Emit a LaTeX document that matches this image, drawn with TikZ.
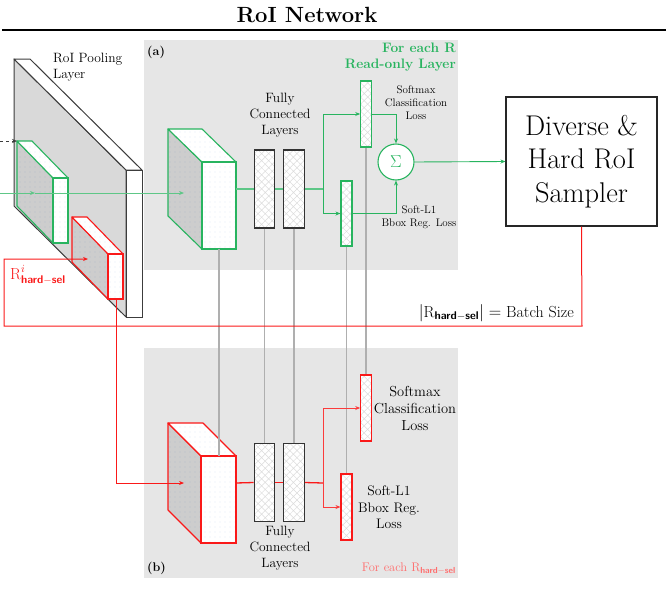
\documentclass[tikz,border=0pt]{standalone}
\usepackage{amsmath}
\usetikzlibrary{arrows.meta,patterns,patterns.meta,calc}
\definecolor{mygreen}{RGB}{40,180,95}
\definecolor{myred}{RGB}{250,25,25}
\definecolor{lightred}{RGB}{255,110,110}
\definecolor{panelgray}{RGB}{230,230,230}
\definecolor{linkgray}{RGB}{175,175,175}
\definecolor{plategray}{RGB}{217,217,217}
\definecolor{sidegray}{RGB}{205,205,205}
\definecolor{edgegray}{RGB}{60,60,60}
\definecolor{dotblue}{RGB}{170,200,235}
\definecolor{dotside}{RGB}{140,165,200}
\definecolor{hatchgray}{RGB}{220,220,220}

\newcommand{\cuboid}[7]{%
  \draw[#7, line width=1.1pt, line join=round, preaction={fill=sidegray}, preaction={pattern={Dots[distance=5pt,radius=0.45pt]}, pattern color=dotside}]
    (#1,#2) -- (#1-#5,#2-#6) -- (#1-#5,#4-#6) -- (#1,#4) -- cycle;
  \draw[#7, line width=1.1pt, line join=round, preaction={fill=white}, preaction={pattern={Dots[distance=5pt,radius=0.45pt]}, pattern color=dotblue}]
    (#1,#2) -- (#1-#5,#2-#6) -- (#3-#5,#2-#6) -- (#3,#2) -- cycle;
  \draw[#7, line width=1.1pt, preaction={fill=white}, preaction={pattern={Dots[distance=5pt,radius=0.45pt]}, pattern color=dotblue}]
    (#1,#2) rectangle (#3,#4);
}

\tikzset{
  arr/.style={-{Stealth[length=5pt,width=4pt]}},
  hatchfill/.style={preaction={fill=white}, preaction={pattern={Hatch[angle=45,distance=5pt,line width=0.5pt]}, pattern color=hatchgray}},
  fclayer/.style={draw=black!80, line width=1.1pt, inner sep=0, minimum width=20.5pt, minimum height=78pt, hatchfill},
  lossbar/.style={line width=1.1pt, inner sep=0, minimum width=10.5pt, minimum height=66pt, hatchfill},
  flowg/.style={mygreen!75, line width=1.6pt},
  flowr/.style={myred, line width=1.3pt},
  link/.style={linkgray, line width=1.2pt},
  lbl/.style={inner sep=0, align=center},
}

\begin{document}
\begin{tikzpicture}[x=1pt,y=-1pt]
\useasboundingbox (0,0) rectangle (670,592);

% title
\node[font=\fontsize{22}{26}\selectfont\bfseries] (title) at (307,15) {RoI Network};
\coordinate (ruleL) at (2,30);
\coordinate (ruleR) at (666,30);
\draw[line width=1.2pt] (ruleL) -- (ruleR);

% panels
\fill[panelgray] (144,40) rectangle (458,270);
\fill[panelgray] (144,348) rectangle (458,578);
\node[anchor=base west, inner sep=0, font=\fontsize{12.5}{15}\selectfont\bfseries] (pa) at (147,55) {(a)};
\node[anchor=base west, inner sep=0, font=\fontsize{12.5}{15}\selectfont\bfseries] (pb) at (147,571) {(b)};

% RoI pooling layer
\draw[edgegray, line width=1pt, line join=round, fill=plategray] (14,59) -- (126,170) -- (126,317) -- (14,206) -- cycle;
\draw[edgegray, line width=1pt, line join=round, fill=white] (14,59) -- (30,59) -- (142,170) -- (126,170) -- cycle;
\draw[edgegray, line width=1pt, fill=white] (126,170) rectangle (142,317);
\node[anchor=north west, inner sep=0, align=left, font=\fontsize{13.5}{16}\selectfont] (pool) at (53,52.5) {RoI Pooling\\Layer};

% small boxes in pooling layer
\cuboid{53}{178}{68}{243}{36}{37}{mygreen}
\cuboid{108}{254}{123}{299}{36}{37}{myred}

% big boxes
\cuboid{202}{162}{236}{249}{34}{33}{mygreen}
\cuboid{201}{456}{236}{543}{33}{33}{myred}

% FC layers
\node[fclayer] (fca1) at (264.5,189) {};
\node[fclayer] (fca2) at (294,189) {};
\node[fclayer] (fcb1) at (264.5,482.5) {};
\node[fclayer] (fcb2) at (294,482.5) {};

% loss bars
\node[lossbar, draw=mygreen] (sma) at (366,114) {};
\node[lossbar, draw=mygreen, minimum width=11pt, minimum height=65pt] (bba) at (346.5,213.5) {};
\node[lossbar, draw=myred] (smb) at (366,408) {};
\node[lossbar, draw=myred, minimum width=11pt] (bbb) at (346.5,507) {};

% sigma
\node[circle, draw=mygreen, line width=1.1pt, fill=white, minimum size=36pt, inner sep=0,
  text=mygreen, font=\fontsize{17}{19}\selectfont] (sig) at (396,162) {$\Sigma$};

% sampler
\node[draw=black!85, line width=1.1pt, minimum width=151pt, minimum height=129pt, inner sep=0,
  align=center, font=\fontsize{28.5}{33.5}\selectfont] (samp) at (581.5,161.5) {Diverse \&\\Hard RoI\\Sampler};

% coordinates
\coordinate (gbaR) at (236,189);
\coordinate (gbbR) at (236,483);
\coordinate (splA) at (323,189);
\coordinate (splB) at (323,483);
\coordinate (gbaTop) at (219,249);
\coordinate (gbbTop) at (219,456);
\coordinate (inG) at (0,193);
\coordinate (gsm) at (35,193);
\coordinate (gbaIn) at (184,193);
\coordinate (dashS) at (0,141);
\coordinate (dashE) at (17,141);
\coordinate (rsmB) at (116,299);
\coordinate (rdown) at (116,483);
\coordinate (gbbIn) at (184,483);
\coordinate (loopA) at (582,326);
\coordinate (loopB) at (4,326);
\coordinate (loopC) at (4,259);
\coordinate (rsmIn) at (88,259);

% shared-weight links
\draw[link] (gbaTop) -- (gbbTop);
\draw[link] (fca1.south) -- (fcb1.north);
\draw[link] (fca2.south) -- (fcb2.north);
\draw[link] (bba.south) -- (bbb.north);
\draw[link] (sma.south) -- (smb.north);

% flow (a)
\draw[flowg] (gbaR) -- (fca1.west);
\draw[flowg] (fca1.east) -- (fca2.west);
\draw[flowg] (fca2.east) -- (splA);
\draw[mygreen, line width=0.9pt, arr] (splA) |- (sma.west);
\draw[mygreen, line width=0.9pt, arr] (splA) |- (bba.west);
\draw[mygreen, line width=0.9pt, arr] (sma.east) -| (sig.north);
\draw[mygreen, line width=0.9pt, arr] (bba.east) -| (sig.south);
\draw[mygreen, line width=0.9pt, arr] (sig.east) -- (samp.west);

% flow (b)
\draw[flowr] (gbbR) -- (fcb1.west);
\draw[flowr] (fcb1.east) -- (fcb2.west);
\draw[flowr] (fcb2.east) -- (splB);
\draw[myred!85, line width=0.9pt, arr] (splB) |- (smb.west);
\draw[myred!85, line width=0.9pt, arr] (splB) |- (bbb.west);

% inputs
\draw[mygreen!75, line width=1pt, arr] (inG) -- (gsm);
\draw[mygreen!75, line width=1pt, arr] (gsm) -- (gbaIn);
\draw[edgegray, line width=0.7pt, dashed, arr] (dashS) -- (dashE);
\draw[myred, line width=1pt, arr] (rsmB) -- (rdown) -- (gbbIn);
\draw[myred, line width=1pt, arr] (samp.south) -- (loopA) -- (loopB) -- (loopC) -- (rsmIn);

% labels
\node[lbl, anchor=north, font=\fontsize{13.5}{16}\selectfont] (fcla) at (280,93) {Fully\\Connected\\Layers};
\node[lbl, anchor=north, font=\fontsize{13.5}{16}\selectfont] (fclb) at (280,526) {Fully\\Connected\\Layers};
\node[lbl, anchor=north, font=\fontsize{11}{13}\selectfont] (smla) at (416,86) {Softmax\\Classification\\Loss};
\node[lbl, anchor=north, font=\fontsize{11}{13.5}\selectfont] (bbla) at (419,205.5) {Soft-L1\\Bbox Reg. Loss};
\node[lbl, anchor=north, font=\fontsize{14.5}{17.2}\selectfont] (smlb) at (415,386) {Softmax\\Classification\\Loss};
\node[lbl, anchor=north, font=\fontsize{13.8}{16.3}\selectfont] (bblb) at (389,486) {Soft-L1\\Bbox Reg.\\Loss};
\node[lbl, anchor=north east, align=right, text=mygreen, font=\fontsize{13.7}{16.5}\selectfont\bfseries] (foreach) at (456,42.5) {For each R\\Read-only Layer};
\node[anchor=base east, inner sep=0, text=lightred, font=\fontsize{12.5}{15}\selectfont] (foreachb) at (456,571.5) {For each R$_{\textsf{\textbf{hard$-$sel}}}$};
\node[anchor=base west, inner sep=0, text=myred, font=\fontsize{16}{19}\selectfont] (rlab) at (10,279) {R$^{i}_{\textsf{\textbf{hard$-$sel}}}$};
\node[anchor=base east, inner sep=0, font=\fontsize{16}{19}\selectfont] (batch) at (574,317) {$|$R$_{\textsf{\textbf{hard$-$sel}}}|$ $=$ Batch Size};
\end{tikzpicture}
\end{document}
